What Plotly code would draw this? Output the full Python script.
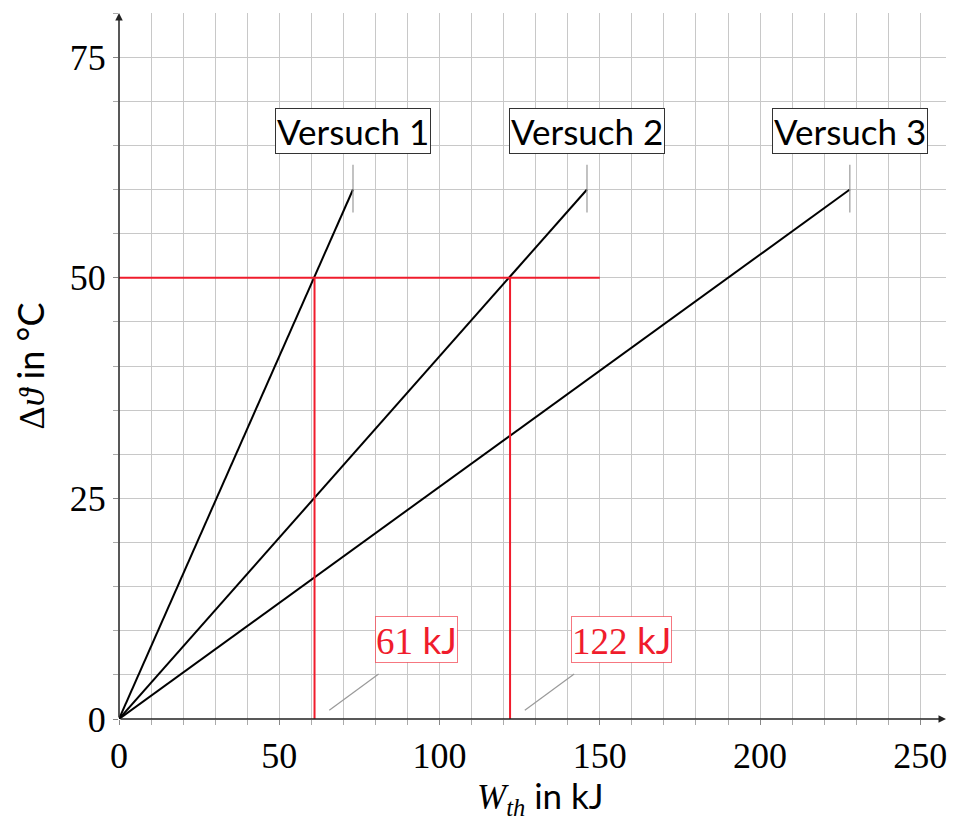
import plotly.graph_objects as go

# Data
series_names = ["Versuch 1", "Versuch 2", "Versuch 3"]
w_end = [73, 146, 228]          # W_th in kJ at end of each line
dtheta_end = [60, 60, 60]       # Δϑ in °C at end of each line
target_dtheta = 50
read_w = [61, 122]              # readings at Δϑ = 50 °C
read_nums = ["61", "122"]
read_unit = "kJ"
x_ticks = [0, 50, 100, 150, 200, 250]
y_ticks = [0, 25, 50, 75]
x_max, y_max = 258, 80

RED = "#f01c2c"
serif = "Liberation Serif"
sans = "Lato"

fig = go.Figure()

for name, xe, ye in zip(series_names, w_end, dtheta_end):
    fig.add_trace(go.Scatter(x=[0, xe], y=[0, ye], mode="lines",
                             line=dict(color="black", width=2), name=name,
                             showlegend=False, hoverinfo="skip"))

# red helper lines
fig.add_trace(go.Scatter(x=[0, 150], y=[target_dtheta, target_dtheta], mode="lines",
                         line=dict(color=RED, width=2), showlegend=False))
for xr in read_w:
    fig.add_trace(go.Scatter(x=[xr, xr], y=[0, target_dtheta], mode="lines",
                             line=dict(color=RED, width=2), showlegend=False))

# pins for series labels
for name, xe, ye in zip(series_names, w_end, dtheta_end):
    fig.add_trace(go.Scatter(x=[xe, xe], y=[ye - 2.6, ye + 2.8], mode="lines",
                             line=dict(color="#9a9a9a", width=1.2), showlegend=False))
    fig.add_annotation(x=xe, y=ye + 6.6, text=name, showarrow=False,
                       font=dict(family=sans, size=35, color="black"),
                       bordercolor="#333", borderwidth=1, borderpad=1,
                       bgcolor="white", xanchor="center", yanchor="middle")

# pins and labels for readings
for xr, num in zip(read_w, read_nums):
    fig.add_trace(go.Scatter(x=[xr + 4.6, xr + 20], y=[1.0, 5.1], mode="lines",
                             line=dict(color="#9a9a9a", width=1.2), showlegend=False))
    fig.add_annotation(x=xr + 19, y=9,
                       text=f"<span style='font-family:{serif}'>{num}</span> {read_unit}",
                       showarrow=False, font=dict(family=sans, size=37, color=RED),
                       bordercolor="rgba(240,28,44,0.6)", borderwidth=1, borderpad=0,
                       bgcolor="white", xanchor="left", yanchor="middle")

# axis arrows
fig.add_annotation(x=x_max, y=0, ax=0, ay=0, xref="x", yref="y", axref="x", ayref="y",
                   showarrow=True, arrowhead=2, arrowsize=1, arrowwidth=1.5,
                   arrowcolor="#222", text="")
fig.add_annotation(x=0, y=y_max, ax=0, ay=0, xref="x", yref="y", axref="x", ayref="y",
                   showarrow=True, arrowhead=2, arrowsize=1, arrowwidth=1.5,
                   arrowcolor="#222", text="")

# x-axis title as annotation below tick labels
fig.add_annotation(x=0.51, y=0, xref="paper", yref="paper", yshift=-78,
                   xanchor="center", yanchor="middle", showarrow=False,
                   text=f"<span style='font-family:{serif}'><i>W</i><sub><i>th</i></sub></span> in kJ",
                   font=dict(family=sans, size=35, color="black"))

fig.update_layout(
    width=947, height=814,
    margin=dict(l=111, r=9, t=5, b=103),
    plot_bgcolor="white", paper_bgcolor="white",
    showlegend=False,
    xaxis=dict(range=[0, x_max], tickvals=x_ticks, showgrid=True, gridcolor="#c8c8c8",
               gridwidth=1, zeroline=False, showline=False, automargin=False,
               ticks="outside", ticklen=5, tickcolor="#888",
               tickfont=dict(family=serif, size=36, color="black"),
               minor=dict(dtick=10, showgrid=True, gridcolor="#c8c8c8", gridwidth=1,
                          ticks="outside", ticklen=5, tickcolor="#aaa")),
    yaxis=dict(range=[0, y_max], tickvals=y_ticks, showgrid=True, gridcolor="#c8c8c8",
               gridwidth=1, zeroline=False, showline=False, automargin=False,
               ticks="outside", ticklen=5, tickcolor="#888",
               tickfont=dict(family=serif, size=36, color="black"),
               minor=dict(dtick=5, showgrid=True, gridcolor="#c8c8c8", gridwidth=1,
                          ticks="outside", ticklen=5, tickcolor="#aaa"),
               title=dict(text=f"<span style='font-family:{serif}'>Δ<i>ϑ</i></span> in °C",
                          font=dict(family=sans, size=36, color="black"), standoff=14)),
)

fig.write_html("out.html")
